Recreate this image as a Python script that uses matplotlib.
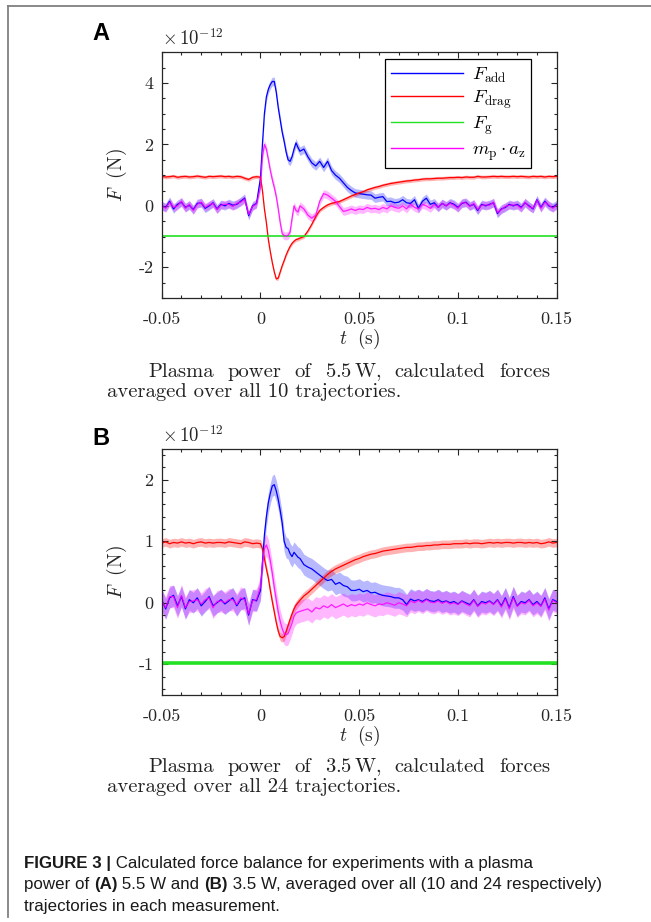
import numpy as np
import matplotlib
matplotlib.use("Agg")
import matplotlib.pyplot as plt
from matplotlib.lines import Line2D
from matplotlib.ticker import MultipleLocator

plt.rcParams["mathtext.fontset"] = "cm"
plt.rcParams["axes.unicode_minus"] = False

# -------------------------------------------------------------------------
# Data (time in ms, forces in units of 1e-12 N)
# -------------------------------------------------------------------------
t_pre = [-50, -48, -46, -44, -42, -40, -38, -36, -34, -32, -30, -28, -26,
         -24, -22, -20, -18, -16, -14, -12, -10, -8, -6, -4, -2]
t_mid = [0, 1, 2, 3, 4, 5, 6, 7, 8, 9, 10, 11, 12, 13, 14, 15, 16, 17, 18, 19, 20]
t_post = [22, 24, 26, 28, 30, 32, 34, 36, 38, 40, 42, 44, 46, 48, 50, 52, 54,
          56, 58, 60, 62, 64, 66, 68, 70, 72, 74, 76, 78, 80, 82, 84, 86, 88,
          90, 92, 94, 96, 98, 100, 102, 104, 106, 108, 110, 112, 114, 116, 118,
          120, 122, 124, 126, 128, 130, 132, 134, 136, 138, 140, 142, 144, 146,
          148, 150]
t_ms = t_pre + t_mid + t_post

# --- Panel A: 5.5 W ---
fadd_a = [0.0, -0.05, 0.15, -0.1, 0.05, 0.12, -0.05, 0.02, -0.12, 0.08, 0.1, -0.08, 0.0,
          0.1, -0.1, 0.05, 0.0, 0.08, 0.02, 0.05, 0.15, 0.25, -0.32, 0.0, 0.08,
          0.9, 2.0, 3.0, 3.55, 3.8, 3.95, 4.05, 4.05, 3.7, 3.2, 2.8, 2.4, 2.1, 1.75,
          1.5, 1.45, 1.6, 1.85, 2.05, 1.9, 1.78,
          1.85, 1.6, 1.4, 1.3, 1.45, 1.25, 1.45, 1.15, 1.0, 0.9,
          0.75, 0.6, 0.5, 0.42, 0.4, 0.38, 0.36, 0.35, 0.25, 0.28,
          0.3, 0.14, 0.15, 0.1, 0.12, 0.2, 0.1, 0.08, 0.2, -0.08,
          0.15, 0.25, 0.05, 0.1, -0.05, 0.08, 0.0, 0.1, 0.05, -0.05,
          0.08, 0.12, 0.0, 0.05, -0.15, 0.05, 0.0, 0.05, 0.1, -0.25,
          -0.1, -0.05, 0.05, 0.0, 0.05, -0.05, 0.1, 0.0, -0.1, 0.2,
          -0.05, 0.15, 0.0, -0.05, 0.05]
fdrag_a = [0.96, 0.94, 0.95, 0.97, 0.93, 0.95, 0.96, 0.94, 0.95, 0.97, 0.95, 0.93, 0.96,
           0.95, 0.96, 0.97, 0.95, 0.96, 0.94, 0.96, 0.95, 0.9, 0.86, 0.93, 0.95,
           0.93, 0.5, -0.1, -0.55, -1.1, -1.5, -1.85, -2.15, -2.38, -2.35, -2.15,
           -1.95, -1.78, -1.6, -1.45, -1.32, -1.22, -1.15, -1.1, -1.08, -1.05,
           -1.0, -0.82, -0.6, -0.35, -0.15, -0.05, 0.03, 0.08, 0.11, 0.14,
           0.2, 0.26, 0.32, 0.37, 0.42, 0.46, 0.52, 0.56, 0.6, 0.63,
           0.67, 0.7, 0.73, 0.75, 0.77, 0.79, 0.81, 0.82, 0.84, 0.85,
           0.87, 0.88, 0.88, 0.89, 0.9, 0.9, 0.91, 0.92, 0.92, 0.93,
           0.92, 0.94, 0.93, 0.93, 0.96, 0.94, 0.94, 0.95, 0.96, 0.95,
           0.96, 0.95, 0.95, 0.96, 0.95, 0.96, 0.95, 0.94, 0.96, 0.95,
           0.96, 0.94, 0.96, 0.95, 0.96]
macc_a = [0.02, -0.08, 0.12, -0.05, 0.0, 0.15, -0.08, 0.05, -0.15, 0.05, 0.12, -0.05, 0.03,
          0.08, -0.12, 0.02, 0.05, 0.05, -0.02, 0.08, 0.12, 0.22, -0.28, -0.02, 0.06,
          0.6, 1.6, 2.0, 1.85, 1.5, 1.15, 0.85, 0.6, 0.3, -0.1, -0.55, -0.9, -0.97,
          -0.98, -0.96, -0.85, -0.4, 0.0, -0.15, -0.2, 0.0,
          -0.1, -0.3, -0.4, -0.3, 0.15, 0.4, 0.35, 0.25, 0.15, -0.02,
          -0.18, -0.15, -0.1, -0.15, -0.1, -0.12, -0.05, -0.1, -0.08, -0.12,
          -0.05, -0.1, 0.0, -0.05, -0.08, 0.0, -0.1, 0.05, -0.05, -0.1,
          0.05, 0.0, -0.08, 0.05, -0.05, 0.08, 0.0, 0.08, 0.02, -0.08,
          0.1, 0.1, -0.02, 0.08, -0.12, 0.02, 0.03, 0.02, 0.12, -0.22,
          -0.12, -0.02, 0.02, 0.03, 0.02, -0.08, 0.12, -0.03, -0.08, 0.18,
          -0.08, 0.12, 0.03, -0.08, 0.02]

# --- Panel B: 3.5 W ---
fadd_b = [0.05, -0.1, 0.08, 0.12, -0.05, 0.1, -0.1, 0.05, 0.0, 0.08, -0.05, 0.02, 0.1,
          -0.05, 0.0, 0.05, -0.02, 0.03, 0.08, -0.05, 0.05, 0.08, -0.2, 0.05, 0.03,
          0.2, 0.65, 1.1, 1.4, 1.63, 1.78, 1.9, 1.92, 1.82, 1.68, 1.5, 1.3, 1.0,
          0.9, 0.88, 0.8, 0.75, 0.82, 0.78, 0.74, 0.72,
          0.62, 0.58, 0.55, 0.5, 0.45, 0.4, 0.36, 0.38, 0.3, 0.33,
          0.28, 0.26, 0.2, 0.2, 0.22, 0.18, 0.2, 0.16, 0.17, 0.14,
          0.12, 0.11, 0.1, 0.08, 0.08, 0.05, -0.03, 0.06, 0.03, 0.05,
          0.02, 0.06, 0.03, 0.02, 0.05, 0.01, 0.03, 0.0, 0.02, -0.02,
          0.03, 0.0, -0.03, 0.05, -0.05, 0.02, 0.0, 0.03, -0.02, 0.05,
          -0.05, 0.08, -0.08, 0.1, -0.05, 0.02, 0.0, 0.05, -0.03, 0.02,
          -0.05, 0.08, -0.1, 0.05, 0.02]
fdrag_b = [0.97, 0.99, 0.96, 0.98, 0.97, 0.99, 0.97, 0.98, 0.96, 0.98, 0.99, 0.97, 0.98,
           0.97, 0.98, 0.98, 0.97, 0.99, 0.98, 0.97, 0.96, 0.99, 0.98, 0.96, 0.97,
           0.96, 0.88, 0.72, 0.55, 0.4, 0.2, 0.02, -0.15, -0.32, -0.46, -0.55, -0.57,
           -0.55, -0.47, -0.37, -0.27, -0.18, -0.1, -0.04, 0.0, 0.04,
           0.11, 0.16, 0.22, 0.28, 0.34, 0.4, 0.46, 0.51, 0.55, 0.58,
           0.61, 0.64, 0.67, 0.7, 0.72, 0.75, 0.77, 0.79, 0.8, 0.82,
           0.84, 0.85, 0.86, 0.87, 0.88, 0.89, 0.9, 0.9, 0.91, 0.92,
           0.92, 0.93, 0.93, 0.94, 0.94, 0.95, 0.95, 0.95, 0.96, 0.96,
           0.96, 0.97, 0.96, 0.97, 0.97, 0.96, 0.97, 0.98, 0.97, 0.98,
           0.97, 0.98, 0.98, 0.97, 0.98, 0.98, 0.97, 0.98, 0.97, 0.98,
           0.96, 0.97, 0.99, 0.97, 0.98]
macc_b = [0.03, -0.08, 0.1, 0.1, -0.08, 0.12, -0.08, 0.02, 0.03, 0.05, -0.02, 0.05, 0.08,
          -0.08, 0.02, 0.03, 0.0, 0.05, 0.05, -0.03, 0.08, 0.05, -0.18, 0.03, 0.05,
          0.25, 0.65, 0.88, 0.94, 0.85, 0.68, 0.48, 0.25, 0.05, -0.15, -0.3, -0.42,
          -0.5, -0.52, -0.5, -0.42, -0.33, -0.22, -0.17, -0.15, -0.14,
          -0.12, -0.1, -0.15, -0.08, -0.1, -0.05, -0.08, -0.03, -0.08, -0.05,
          -0.02, -0.06, -0.03, -0.05, -0.02, -0.04, 0.0, -0.03, -0.05, -0.02,
          -0.03, 0.0, -0.02, -0.04, 0.0, -0.02, -0.05, 0.03, 0.0, 0.04,
          0.0, 0.05, 0.01, 0.0, 0.03, -0.01, 0.02, -0.02, 0.0, -0.03,
          0.02, -0.02, -0.05, 0.04, -0.06, 0.0, -0.02, 0.02, -0.03, 0.04,
          -0.07, 0.06, -0.1, 0.08, -0.06, 0.0, -0.02, 0.04, -0.05, 0.0,
          -0.06, 0.06, -0.12, 0.04, 0.0]

f_grav = -0.98

# shaded-band half widths (add, drag, m*a)
band_a = [0.14, 0.06, 0.13]
band_b = [0.17, 0.07, 0.18]

x_ticks = [-0.05, 0, 0.05, 0.1, 0.15]
x_ticklabels = ["-0.05", "0", "0.05", "0.1", "0.15"]
y_ticks_a = [-2, 0, 2, 4]
y_ticks_b = [-1, 0, 1, 2]

captions = [("Plasma power of 5.5 W, calculated forces", "averaged over all 10 trajectories."),
            ("Plasma power of 3.5 W, calculated forces", "averaged over all 24 trajectories.")]

C_ADD, C_DRAG, C_G, C_ACC = "#0000ff", "#ff0000", "#22e022", "#ff00ff"
AX_COL = "#262626"
W, H = 651, 922

t = np.array(t_ms) / 1000.0


def fx(px):
    return px / W


def fy(py):
    return 1 - py / H


fig = plt.figure(figsize=(6.51, 9.22), dpi=100)

# frame lines (top and left) of the figure box
fig.add_artist(Line2D([fx(8), 1.0], [fy(6.5), fy(6.5)], color="#808080", lw=1.3))
fig.add_artist(Line2D([fx(8), fx(8)], [fy(6.5), fy(917)], color="#808080", lw=1.3))


def draw_panel(ax, fadd, fdrag, macc, band, ylim, yticks, yminor, g_lw):
    fadd, fdrag, macc = np.array(fadd), np.array(fdrag), np.array(macc)
    ax.fill_between(t, fadd - band[0], fadd + band[0], color=C_ADD, alpha=0.28, lw=0)
    ax.fill_between(t, fdrag - band[1], fdrag + band[1], color=C_DRAG, alpha=0.3, lw=0)
    ax.fill_between(t, macc - band[2], macc + band[2], color=C_ACC, alpha=0.28, lw=0)
    ax.plot(t, fadd, color=C_ADD, lw=0.9, label=r"$F_{\rm add}$")
    ax.plot(t, fdrag, color=C_DRAG, lw=0.9, label=r"$F_{\rm drag}$")
    ax.plot([t[0], t[-1]], [f_grav, f_grav], color=C_G, lw=g_lw, label=r"$F_{\rm g}$")
    ax.plot(t, macc, color=C_ACC, lw=0.9, alpha=0.85, label=r"$m_{\rm p}\cdot a_{\rm z}$")

    ax.set_xlim(-0.05, 0.15)
    ax.set_ylim(*ylim)
    ax.set_xticks(x_ticks)
    ax.set_xticklabels(x_ticklabels, fontfamily="cmr10", fontsize=13)
    ax.set_yticks(yticks)
    ax.set_yticklabels([str(v) for v in yticks], fontfamily="cmr10", fontsize=13)
    ax.xaxis.set_minor_locator(MultipleLocator(0.01))
    ax.yaxis.set_minor_locator(MultipleLocator(yminor))
    ax.tick_params(which="both", direction="in", top=True, right=True,
                   color=AX_COL, labelcolor=AX_COL, width=0.8)
    ax.tick_params(which="major", length=4.5)
    ax.tick_params(axis="x", which="major", pad=10)
    ax.tick_params(axis="y", which="major", pad=6)
    ax.tick_params(which="minor", length=2.5)
    for s in ax.spines.values():
        s.set_color(AX_COL)
        s.set_linewidth(0.9)
    ax.set_xlabel(r"$t\ \ \mathrm{(s)}$", fontsize=14, color=AX_COL, labelpad=0)
    ax.set_ylabel(r"$F\ \ \mathrm{(N)}$", fontsize=14, color=AX_COL, labelpad=7)
    ax.text(0.0, 1.012, r"$\times\,10^{-12}$", transform=ax.transAxes,
            fontsize=13.5, color=AX_COL, ha="left", va="bottom")


ax_a = fig.add_axes([fx(161.7), fy(298), fx(556.7) - fx(161.7), fy(52.3) - fy(298)])
draw_panel(ax_a, fadd_a, fdrag_a, macc_a, band_a, (-3, 5), y_ticks_a, 0.5, 1.2)
leg = ax_a.legend(loc="upper right", bbox_to_anchor=(0.935, 0.974), borderaxespad=0,
                  fontsize=13.5, handlelength=3.85, handletextpad=0.45, borderpad=0.3,
                  labelspacing=0.15, fancybox=False, framealpha=1)
leg.get_frame().set_edgecolor("black")
leg.get_frame().set_linewidth(0.9)
for h in leg.get_lines():
    h.set_linewidth(1.0)
    h.set_alpha(1)

ax_b = fig.add_axes([fx(161.7), fy(695), fx(556.7) - fx(161.7), fy(449) - fy(695)])
draw_panel(ax_b, fadd_b, fdrag_b, macc_b, band_b, (-1.5, 2.5), y_ticks_b, 0.2, 2.6)

# panel letters
fig.text(fx(92), fy(40), "A", fontsize=17, fontweight="bold", family="Liberation Sans")
fig.text(fx(92), fy(445), "B", fontsize=17, fontweight="bold", family="Liberation Sans")

renderer = fig.canvas.get_renderer()


def text_width(s, **kw):
    tt = fig.text(0, 0, s, **kw)
    w = tt.get_window_extent(renderer).width
    tt.remove()
    return w


def justified_line(s, x0, x1, ybase, **kw):
    words = s.split(" ")
    # keep "5.5 W," together with a thin space
    merged = []
    for wd in words:
        if wd.startswith("W") and merged and merged[-1].replace(".", "").isdigit():
            merged[-1] = r"$\mathrm{" + merged[-1] + r"\,W,}$"
        else:
            merged.append(wd)
    widths = [text_width(wd, **kw) for wd in merged]
    gap = (x1 - x0 - sum(widths)) / (len(merged) - 1)
    x = x0
    for wd, w in zip(merged, widths):
        fig.text(fx(x), fy(ybase), wd, va="baseline", ha="left", **kw)
        x += w + gap


cap_kw = dict(fontfamily="cmr10", fontsize=14.8, color="#222222")
for (l1, l2), yb in zip(captions, [377, 772]):
    justified_line(l1, 148, 550, yb, **cap_kw)
    fig.text(fx(107), fy(yb + 20), l2, va="baseline", ha="left", **cap_kw)

# figure caption at the bottom
fig_kw = dict(fontsize=12.2, family=["Liberation Sans Narrow", "Liberation Sans"], color="#1a1a1a")
cap_lines = [
    [("FIGURE 3 |", "bold"), (" Calculated force balance for experiments with a plasma", "normal")],
    [("power of ", "normal"), ("(A)", "bold"), (" 5.5 W and ", "normal"), ("(B)", "bold"),
     (" 3.5 W, averaged over all (10 and 24 respectively)", "normal")],
    [("trajectories in each measurement.", "normal")],
]
for line, yb in zip(cap_lines, [867.5, 889, 910.5]):
    x = 24
    for seg, wt in line:
        fig.text(fx(x), fy(yb), seg, va="baseline", ha="left", fontweight=wt, **fig_kw)
        x += text_width(seg.replace(" ", "\u00a0"), fontweight=wt, **fig_kw)

fig.savefig("out.png", dpi=100)
